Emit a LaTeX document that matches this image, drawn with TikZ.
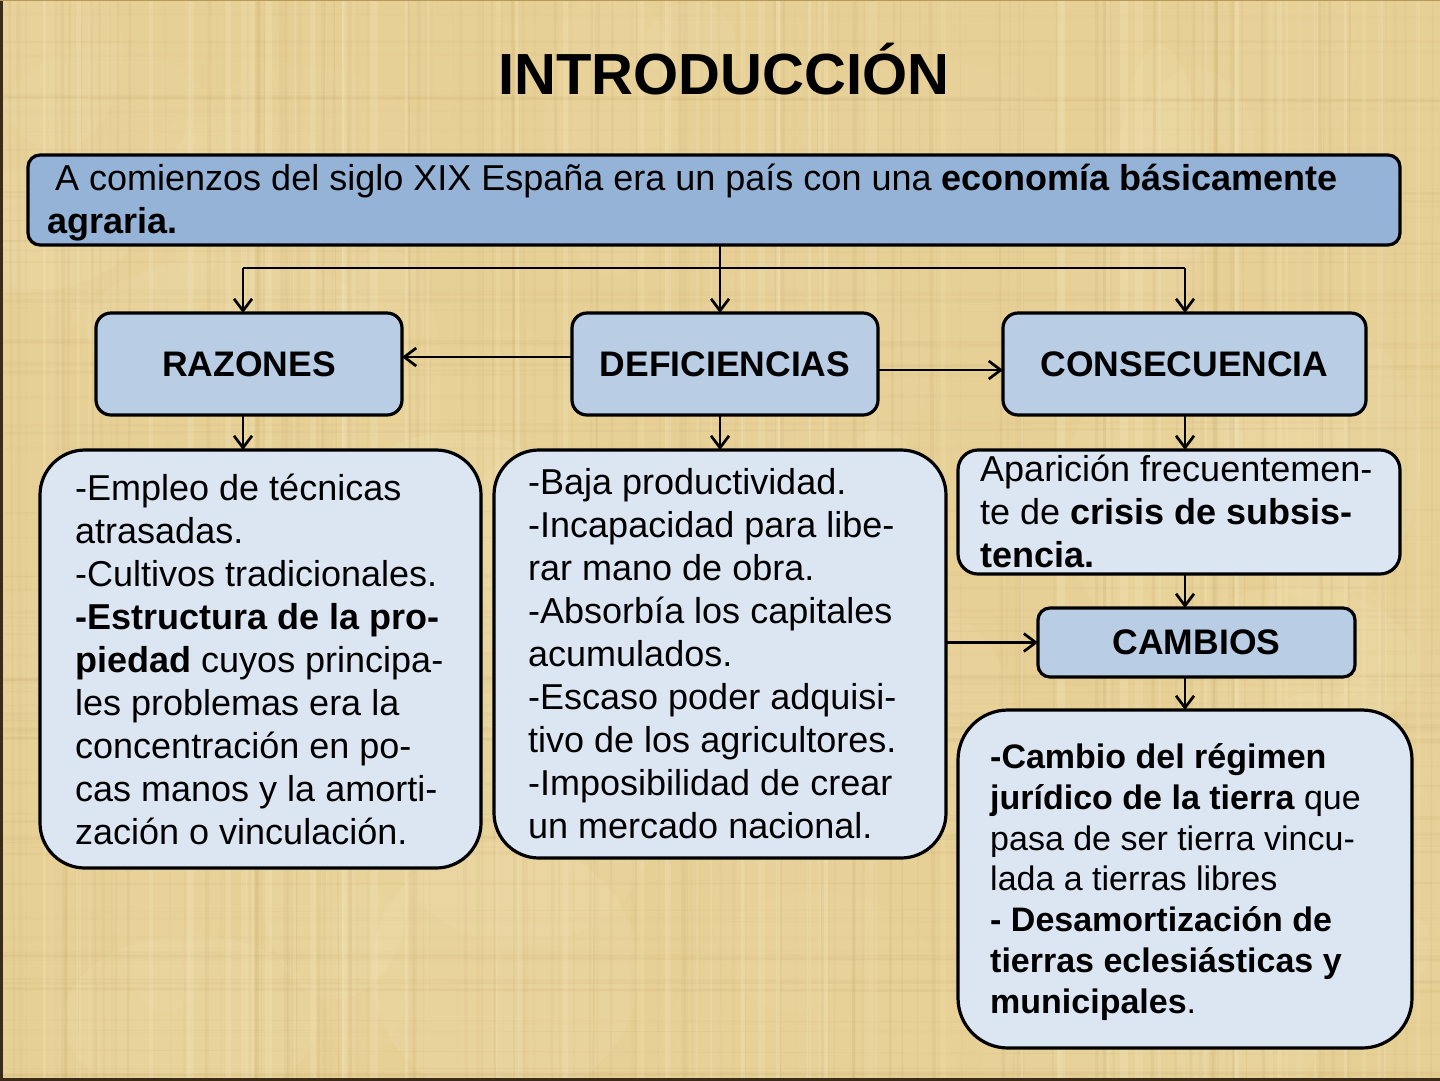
\documentclass[tikz,border=0pt]{standalone}
\usepackage{fontspec}
\setmainfont{Liberation Sans}
\usetikzlibrary{arrows.meta,calc}
\definecolor{papyrus}{HTML}{E7D096}
\definecolor{papyrusdark}{HTML}{B8995A}
\definecolor{papyruslight}{HTML}{F4E6BC}
\definecolor{topfill}{HTML}{95B3D7}
\definecolor{headfill}{HTML}{B9CDE5}
\definecolor{textfill}{HTML}{DCE6F2}
\definecolor{framedark}{HTML}{3A2A18}
\tikzset{
  x=1pt, y=-1pt,
  boxbase/.style={draw=black, line width=3.2pt, inner sep=0pt, outer sep=0pt},
  topbox/.style={boxbase, fill=topfill, rounded corners=12pt},
  headbox/.style={boxbase, fill=headfill, rounded corners=15pt,
     font=\fontsize{35.5}{40}\selectfont\bfseries},
  textbox/.style={boxbase, fill=textfill},
  bodytext/.style={inner sep=0pt, align=left, anchor=west,
     font=\fontsize{36}{43}\selectfont},
  conn/.style={line width=2.7pt, draw=black},
  arr/.style={conn, -{Straight Barb[length=12pt,width=18pt]}},
}
\begin{document}
\begin{tikzpicture}
\useasboundingbox (0,0) rectangle (1440,1080);
% background papyrus
\fill[papyrus] (0,0) rectangle (1440,1080);
\pgfmathsetseed{12}
\foreach \i in {1,...,50}{
  \pgfmathsetmacro\xx{rnd*1440}
  \pgfmathsetmacro\yy{rnd*1080}
  \pgfmathsetmacro\rx{30+rnd*120}
  \pgfmathsetmacro\ry{30+rnd*120}
  \pgfmathsetmacro\oo{0.05+rnd*0.12}
  \fill[papyruslight, opacity=\oo] (\xx,\yy) ellipse [x radius=\rx, y radius=\ry];
}
\foreach \i in {1,...,140}{
  \pgfmathsetmacro\xx{rnd*1440}
  \pgfmathsetmacro\ww{0.6+rnd*3.5}
  \pgfmathsetmacro\oo{0.03+rnd*0.09}
  \pgfmathsetmacro\dx{rnd*12-6}
  \draw[line width=\ww pt, draw=papyrusdark, opacity=\oo] (\xx,0) -- (\xx+\dx,1080);
}
\foreach \i in {1,...,90}{
  \pgfmathsetmacro\yy{rnd*1080}
  \pgfmathsetmacro\ww{0.6+rnd*3}
  \pgfmathsetmacro\oo{0.03+rnd*0.07}
  \pgfmathsetmacro\dy{rnd*10-5}
  \draw[line width=\ww pt, draw=papyrusdark, opacity=\oo] (0,\yy) -- (1440,\yy+\dy);
}
\foreach \i in {1,...,60}{
  \pgfmathsetmacro\xx{rnd*1440}
  \pgfmathsetmacro\ww{2+rnd*6}
  \pgfmathsetmacro\oo{0.12+rnd*0.2}
  \draw[line width=\ww pt, draw=papyruslight, opacity=\oo] (\xx,0) -- (\xx,1080);
}
\draw[line width=3pt, draw=framedark] (1,0) -- (1,1079) -- (1440,1079);
\draw[line width=1.2pt, draw=papyrusdark] (0,0.6) -- (1440,0.6);

% title
\node[anchor=base, inner sep=0pt, font=\fontsize{58}{60}\selectfont\bfseries] (title) at (724,94) {INTRODUCCIÓN};

% top box
\node[topbox, minimum width=1372pt, minimum height=90pt] (top) at (714,200) {};
\node[bodytext] (toptext) at (47,203) {\hspace*{8pt}A comienzos del siglo XIX España era un país con una \textbf{economía básicamente}\\\textbf{agraria.}};

% headers
\node[headbox, minimum width=306pt, minimum height=102pt] (raz) at (249,364) {RAZONES};
\node[headbox, minimum width=306pt, minimum height=102pt] (def) at (725,364) {DEFICIENCIAS};
\node[headbox, minimum width=363pt, minimum height=102pt] (cons) at (1184.5,364) {CONSECUENCIA};
\node[headbox, minimum width=317pt, minimum height=69pt, rounded corners=12pt] (cam) at (1196.5,642.5) {CAMBIOS};

% text boxes
\node[textbox, rounded corners=45pt, minimum width=441pt, minimum height=418pt] (t1) at (260.5,659) {};
\node[textbox, rounded corners=45pt, minimum width=452pt, minimum height=408pt] (t2) at (720,654) {};
\node[textbox, rounded corners=20pt, minimum width=442pt, minimum height=124pt] (t3) at (1179,512) {};
\node[textbox, rounded corners=50pt, minimum width=454pt, minimum height=338pt] (t5) at (1185,879) {};

\node[bodytext] (t1text) at (75,659) {-Empleo de técnicas\\atrasadas.\\-Cultivos tradicionales.\\\textbf{-Estructura de la pro-}\\\textbf{piedad} cuyos principa-\\les problemas era la\\concentración en po-\\cas manos y la amorti-\\zación o vinculación.};
\node[bodytext] (t2text) at (528,654) {-Baja productividad.\\-Incapacidad para libe-\\rar mano de obra.\\-Absorbía los capitales\\acumulados.\\-Escaso poder adquisi-\\tivo de los agricultores.\\-Imposibilidad de crear\\un mercado nacional.};
\node[bodytext] (t3text) at (980,511) {Aparición frecuentemen-\\te de \textbf{crisis de subsis-}\\\textbf{tencia.}};
\node[bodytext, font=\fontsize{34}{40.7}\selectfont] (t5text) at (990,882) {\textbf{-Cambio del régimen}\\\textbf{jurídico de la tierra} que\\pasa de ser tierra vincu-\\lada a tierras libres\\\textbf{- Desamortización de}\\\textbf{tierras eclesiásticas y}\\\textbf{municipales}.};

% connectors
\coordinate (jL) at (243,268);
\coordinate (jM) at (720,268);
\coordinate (jR) at (1185,268);
\draw[conn] (top.south -| jM) -- (jM);
\draw[conn] (jL) -- (jR);
\draw[arr] (jL) -- (jL |- raz.north);
\draw[arr] (jM) -- (jM |- def.north);
\draw[arr] (jR) -- (jR |- cons.north);
\draw[arr] ([yshift=7pt]def.west) -- ([yshift=7pt]raz.east);
\draw[arr] ([yshift=-6pt]def.east) -- ([yshift=-6pt]cons.west);
\draw[arr] (raz.south -| jL) -- (jL |- t1.north);
\draw[arr] (def.south -| jM) -- (jM |- t2.north);
\draw[arr] (cons.south -| jR) -- (jR |- t3.north);
\draw[arr] (t3.south -| jR) -- (jR |- cam.north);
\draw[arr] (t2.east |- cam.west) -- (cam.west);
\draw[arr] (cam.south -| jR) -- (jR |- t5.north);
\end{tikzpicture}
\end{document}
